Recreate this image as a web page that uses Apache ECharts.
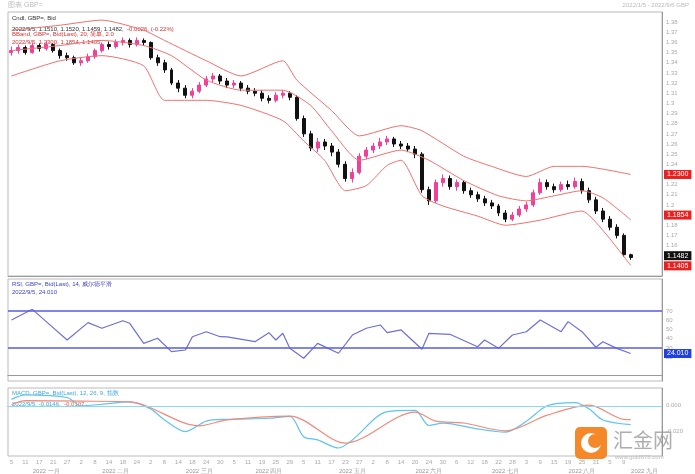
<!DOCTYPE html>
<html>
<head>
<meta charset="UTF-8">
<script src="https://cdn.jsdelivr.net/npm/echarts@6/dist/echarts.min.js"></script>
<style>html,body{margin:0;padding:0;background:#fff}#c{width:695px;height:474px}</style>
</head>
<body>
<div id="c"></div>
<script>
// OHLC rows: [open, close, low, high], one per 2 trading days, 2022/1/5 - 2022/9/5
var candles = [
 [1.350,1.352,1.347,1.356],[1.352,1.355,1.349,1.358],[1.355,1.350,1.348,1.357],[1.350,1.357,1.349,1.360],
 [1.357,1.354,1.351,1.359],[1.354,1.358,1.352,1.361],[1.358,1.352,1.350,1.359],[1.352,1.347,1.344,1.354],
 [1.347,1.345,1.342,1.350],[1.345,1.340,1.338,1.347],[1.340,1.342,1.337,1.345],[1.342,1.346,1.340,1.349],
 [1.346,1.352,1.344,1.354],[1.352,1.358,1.350,1.360],[1.358,1.356,1.353,1.361],[1.356,1.360,1.354,1.363],
 [1.360,1.362,1.357,1.365],[1.362,1.358,1.355,1.364],[1.358,1.362,1.356,1.365],[1.362,1.360,1.357,1.364],
 [1.360,1.345,1.343,1.361],[1.345,1.340,1.337,1.348],[1.340,1.333,1.330,1.343],[1.333,1.320,1.318,1.335],
 [1.320,1.315,1.311,1.323],[1.315,1.308,1.305,1.318],[1.308,1.312,1.305,1.315],[1.312,1.318,1.310,1.321],
 [1.318,1.324,1.316,1.327],[1.324,1.327,1.321,1.330],[1.327,1.322,1.319,1.329],[1.322,1.318,1.315,1.325],
 [1.318,1.320,1.315,1.323],[1.320,1.315,1.312,1.322],[1.315,1.312,1.309,1.318],[1.312,1.310,1.307,1.315],
 [1.310,1.305,1.302,1.313],[1.305,1.303,1.300,1.308],[1.303,1.308,1.301,1.311],[1.308,1.310,1.305,1.313],
 [1.310,1.306,1.303,1.312],[1.306,1.285,1.283,1.308],[1.285,1.270,1.267,1.288],[1.270,1.256,1.253,1.273],
 [1.256,1.262,1.252,1.266],[1.262,1.258,1.254,1.265],[1.258,1.252,1.248,1.261],[1.252,1.240,1.237,1.255],
 [1.240,1.226,1.223,1.243],[1.226,1.232,1.222,1.236],[1.232,1.248,1.230,1.251],[1.248,1.254,1.245,1.257],
 [1.254,1.258,1.251,1.261],[1.258,1.262,1.255,1.266],[1.262,1.265,1.259,1.268],[1.265,1.260,1.257,1.267],
 [1.260,1.258,1.255,1.263],[1.258,1.255,1.252,1.261],[1.255,1.250,1.246,1.258],[1.250,1.215,1.212,1.252],
 [1.215,1.204,1.200,1.218],[1.204,1.222,1.202,1.225],[1.222,1.226,1.218,1.230],[1.226,1.218,1.215,1.229],
 [1.218,1.222,1.214,1.225],[1.222,1.214,1.211,1.224],[1.214,1.210,1.207,1.217],[1.210,1.206,1.203,1.213],
 [1.206,1.202,1.199,1.209],[1.202,1.199,1.196,1.205],[1.199,1.192,1.189,1.201],[1.192,1.186,1.183,1.195],
 [1.186,1.190,1.184,1.193],[1.190,1.196,1.188,1.199],[1.196,1.200,1.193,1.203],[1.200,1.212,1.198,1.215],
 [1.212,1.222,1.210,1.226],[1.222,1.218,1.215,1.225],[1.218,1.215,1.212,1.221],[1.215,1.220,1.213,1.223],
 [1.220,1.218,1.215,1.224],[1.218,1.223,1.216,1.227],[1.223,1.214,1.211,1.226],[1.214,1.205,1.202,1.217],
 [1.205,1.194,1.191,1.208],[1.194,1.186,1.183,1.197],[1.186,1.178,1.175,1.189],[1.178,1.170,1.167,1.181],
 [1.170,1.151,1.149,1.172],[1.1510,1.1482,1.1459,1.1520]
];
var slotCount = 94;
// sparse [index, value] points
var bandUpper = [[0,1.372],[7,1.377],[13,1.382],[19,1.372],[22,1.362],[28,1.342],[33,1.327],[39,1.342],[41,1.323],[46,1.293],[50,1.268],[56,1.278],[59,1.273],[65,1.248],[69,1.238],[74,1.228],[78,1.238],[82,1.238],[89,1.2300]];
var bandMid = [[0,1.352],[7,1.357],[13,1.362],[19,1.357],[23,1.347],[28,1.323],[33,1.313],[39,1.313],[43,1.298],[46,1.273],[50,1.244],[56,1.254],[60,1.244],[65,1.224],[70,1.209],[74,1.204],[78,1.209],[82,1.214],[85,1.207],[89,1.1854]];
var bandLower = [[0,1.327],[7,1.342],[13,1.347],[19,1.337],[22,1.303],[28,1.303],[33,1.298],[39,1.283],[42,1.263],[45,1.244],[48,1.214],[51,1.219],[54,1.239],[56,1.244],[59,1.209],[62,1.199],[67,1.189],[71,1.180],[76,1.185],[82,1.194],[85,1.175],[89,1.1405]];
var rsiPts = [[0,60.3],[3,71.8],[5,58.5],[8,38.6],[11,57.4],[13,51.3],[16,59.5],[17,56.7],[19,35],[21,40.5],[23,26],[25,27.8],[26,42.2],[28,47.6],[30,42.2],[31,42],[35,36.8],[37,46.6],[38,38.6],[39,45.9],[40,29.6],[42,18.9],[44,35],[47,24.3],[49,44],[51,51.3],[53,54.9],[54,46.6],[56,49.5],[59,28.6],[60,45.9],[63,44.8],[67,31.4],[68,38.6],[70,29.6],[72,44],[74,47.6],[76,60.3],[79,47.6],[80,58.5],[82,47.6],[84,30.8],[85,36.8],[87,29.6],[89,24.0]];
var macdPts = [[0,0.005],[2,0.0085],[8,0.0064],[10,0],[13,0.0012],[17,0.003],[20,-0.0024],[22,-0.011],[25,-0.020],[28,-0.0119],[31,-0.0105],[37,-0.0097],[40,-0.0083],[42,-0.024],[44,-0.0265],[47,-0.0328],[49,-0.0265],[54,-0.0046],[58,-0.0036],[60,-0.0153],[62,-0.0134],[67,-0.018],[71,-0.0204],[74,-0.012],[77,0],[81,0.0024],[83,-0.0024],[85,-0.011],[89,-0.0146]];
var signalPts = [[0,0.001],[2,0.004],[10,0.0036],[17,0.003],[27,-0.0156],[31,-0.011],[40,-0.008],[48,-0.029],[58,-0.0049],[61,-0.0119],[65,-0.0134],[71,-0.0195],[77,-0.0073],[83,0.0005],[88,-0.0105],[89,-0.0107]];
var monthLabels = [[5,'2022 一月'],[15,'2022 二月'],[27,'2022 三月'],[37,'2022 四月'],[49,'2022 五月'],[60,'2022 六月'],[71,'2022 七月'],[82,'2022 八月'],[91,'2022 九月']];
var dayLabels = ['5','7','11','13','17','19','21','25','27','31','2','4','8','10','14','16','18','22','24','28','2','4','8','10','14','16','18','22','24','28','30','1','5','7','11','13','19','21','25','27','29','3','5','9','11','13','17','19','23','25','27','31','2','6','8','10','14','16','20','22','24','28','30','4','6','8','12','14','18','20','22','26','28','1','3','5','9','11','15','17','19','23','25','29','31','2','5','7','9','13'];

var cats = [];
for (var i = 0; i < slotCount; i++) cats.push(i < dayLabels.length ? dayLabels[i] : '');
var monthMap = {};
monthLabels.forEach(function (m) { monthMap[m[0]] = m[1]; });

function full(pts) {
    var arr = new Array(slotCount).fill(null);
    pts.forEach(function (p) { arr[p[0]] = p[1]; });
    return arr;
}
function tag(v, bg, txt) {
    return {
        symbol: 'none', silent: true, lineStyle: { color: 'rgba(0,0,0,0)', width: 1, type: 'solid' },
        label: { show: true, position: 'end', formatter: txt, backgroundColor: bg, color: '#fff', fontSize: 7, padding: [1, 3], distance: 2 },
        data: [{ yAxis: v }]
    };
}

var axisLbl = { color: '#aaa', fontSize: 6 };
var grids = [
    { left: 8, right: 33, top: 12, height: 264 },
    { left: 8, right: 33, top: 279, height: 102 },
    { left: 8, right: 33, top: 388, height: 72 }
];
var xBase = { type: 'category', data: cats, boundaryGap: true, axisTick: { show: false },
    axisLine: { lineStyle: { color: '#999' } }, splitLine: { show: false } };

var chart = echarts.init(document.getElementById('c'));
chart.setOption({
    animation: false,
    backgroundColor: '#fff',
    grid: grids.map(function (g) { return Object.assign({ show: true, borderColor: '#bbb', borderWidth: 1 }, g); }),
    xAxis: [
        Object.assign({ gridIndex: 0, axisLabel: { show: false } }, xBase),
        Object.assign({ gridIndex: 1, axisLabel: { show: false } }, xBase),
        Object.assign({ gridIndex: 2, axisLabel: { color: '#aaa', fontSize: 6, interval: 1, margin: 3 } }, xBase),
        Object.assign({}, xBase, { gridIndex: 2, position: 'bottom', offset: 4, axisLine: { show: false },
            axisLabel: { color: '#999', fontSize: 6, interval: 0, formatter: function (v, idx) { return monthMap[idx] || ''; } } })
    ],
    yAxis: [
        { gridIndex: 0, position: 'right', min: 1.13, max: 1.39, interval: 0.01, splitLine: { show: false },
          axisLine: { show: true, lineStyle: { color: '#999' } }, axisTick: { show: false },
          axisLabel: Object.assign({ showMinLabel: false, showMaxLabel: false, margin: 4, formatter: function (v) { return +v.toFixed(2); } }, axisLbl) },
        { gridIndex: 1, position: 'right', min: -5.7, max: 104.6, splitLine: { show: false },
          axisLine: { show: true, lineStyle: { color: '#999' } }, axisTick: { show: false },
          axisLabel: Object.assign({ margin: 4, customValues: [20, 30, 40, 50, 60, 70] }, axisLbl) },
        { gridIndex: 2, position: 'right', min: -0.039, max: 0.0138, splitLine: { show: false },
          axisLine: { show: true, lineStyle: { color: '#999' } }, axisTick: { show: false },
          axisLabel: Object.assign({ margin: 4, customValues: [0, -0.02], formatter: function (v) { return v.toFixed(3); } }, axisLbl) }
    ],
    series: [
        { type: 'candlestick', xAxisIndex: 0, yAxisIndex: 0, data: candles, barMaxWidth: 4,
          itemStyle: { color: '#f0409a', color0: '#111', borderColor: '#f0409a', borderColor0: '#111', borderWidth: 1 },
          markLine: tag(1.1482, '#111', '1.1482') },
        { type: 'line', xAxisIndex: 0, yAxisIndex: 0, data: full(bandUpper), connectNulls: true, smooth: 0.2, symbol: 'none',
          lineStyle: { color: '#f07070', width: 1 }, markLine: tag(1.2300, '#e82020', '1.2300') },
        { type: 'line', xAxisIndex: 0, yAxisIndex: 0, data: full(bandMid), connectNulls: true, smooth: 0.2, symbol: 'none',
          lineStyle: { color: '#f07070', width: 1 }, markLine: tag(1.1854, '#e82020', '1.1854') },
        { type: 'line', xAxisIndex: 0, yAxisIndex: 0, data: full(bandLower), connectNulls: true, smooth: 0.2, symbol: 'none',
          lineStyle: { color: '#f07070', width: 1 }, markLine: tag(1.1405, '#e82020', '1.1405') },
        { type: 'line', xAxisIndex: 1, yAxisIndex: 1, data: full(rsiPts), connectNulls: true, symbol: 'none',
          lineStyle: { color: '#6f6fd8', width: 1.2 },
          markLine: { symbol: 'none', silent: true, label: { show: false }, lineStyle: { color: '#5a5ae6', width: 1.5, type: 'solid' },
              data: [{ yAxis: 70 }, { yAxis: 30 }] } },
        { type: 'line', xAxisIndex: 1, yAxisIndex: 1, data: full([[89, 24.0]]), symbol: 'none', markLine: tag(24.0, '#2040e0', '24.010') },
        { type: 'line', xAxisIndex: 2, yAxisIndex: 2, data: full(macdPts), connectNulls: true, smooth: 0.3, symbol: 'none',
          lineStyle: { color: '#5ec4f0', width: 1.2 },
          markLine: { symbol: 'none', silent: true, label: { show: false }, lineStyle: { color: '#8dd8f5', width: 1.2, type: 'solid' }, data: [{ yAxis: 0 }] } },
        { type: 'line', xAxisIndex: 2, yAxisIndex: 2, data: full(signalPts), connectNulls: true, smooth: 0.3, symbol: 'none',
          lineStyle: { color: '#f08a7a', width: 1.2 } }
    ],
    graphic: [
        { type: 'text', left: 8, top: 2, style: { text: '图表 GBP=', fill: '#bbb', fontSize: 7 } },
        { type: 'text', right: 6, top: 2, style: { text: '2022/1/5 - 2022/9/6 GBP', fill: '#bbb', fontSize: 6 } },
        { type: 'text', left: 12, top: 15, style: { text: 'Cndl, GBP=, Bid', fill: '#333', fontSize: 6 } },
        { type: 'text', left: 12, top: 23, style: { rich: { a: { fill: '#333', fontSize: 6 }, b: { fill: '#e03030', fontSize: 6 } },
            text: '{a|2022/9/5, 1.1510, 1.1520, 1.1459, 1.1482,} {b|-0.0026, (-0.22%)}' } },
        { type: 'text', left: 12, top: 31, style: { text: 'BBand, GBP=, Bid(Last), 20, 简单, 2.0', fill: '#e03030', fontSize: 6 } },
        { type: 'text', left: 12, top: 39, style: { text: '2022/9/5, 1.2300, 1.1854, 1.1405', fill: '#e03030', fontSize: 6 } },
        { type: 'text', left: 12, top: 281, style: { text: 'RSI, GBP=, Bid(Last), 14, 威尔德平滑', fill: '#4040d0', fontSize: 6 } },
        { type: 'text', left: 12, top: 289, style: { text: '2022/9/5, 24.010', fill: '#4040d0', fontSize: 6 } },
        { type: 'text', left: 12, top: 390, style: { text: 'MACD, GBP=, Bid(Last), 12, 26, 9, 指数', fill: '#3aa8e0', fontSize: 6 } },
        { type: 'text', left: 12, top: 398, style: { rich: { a: { fill: '#3aa8e0', fontSize: 6 }, b: { fill: '#e06040', fontSize: 6 } },
            text: '{a|2022/9/5, -0.0146,} {b|-0.0107}' } },
        { type: 'group', right: 22, bottom: 14, children: [
            { type: 'rect', shape: { x: 0, y: 0, width: 32, height: 32, r: 5 }, style: { fill: '#f5892a' } },
            { type: 'circle', shape: { cx: 16, cy: 16, r: 10 }, style: { fill: '#fff' } },
            { type: 'circle', shape: { cx: 20, cy: 14, r: 7 }, style: { fill: '#f5892a' } },
            { type: 'text', x: 38, y: 3, style: { text: '汇金网', fill: '#9a9a9a', fontSize: 20, fontFamily: 'Noto Sans CJK SC', opacity: 0.8 } },
            { type: 'text', x: 40, y: 27, style: { text: 'www.gold678.com', fill: '#bbb', fontSize: 6 } }
        ] }
    ]
});
</script>
</body>
</html>
